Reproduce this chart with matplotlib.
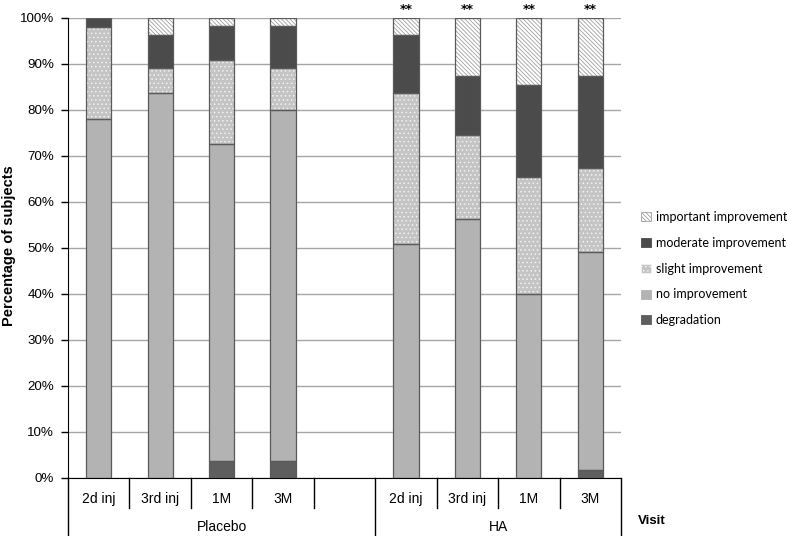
import matplotlib
matplotlib.use("Agg")
import matplotlib.pyplot as plt
import matplotlib.patches as patches
import numpy as np

# visits per treatment group
groups = ["Placebo", "HA"]
visits = ["2d inj", "3rd inj", "1M", "3M"]

# percentage of subjects, Placebo visits then HA visits
degradation = [0.0, 0.0, 3.6, 3.6, 0.0, 0.0, 0.0, 1.8]
no_improvement = [78.0, 83.6, 69.1, 76.4, 50.9, 56.4, 40.0, 47.3]
slight_improvement = [20.0, 5.5, 18.2, 9.1, 32.7, 18.2, 25.5, 18.2]
moderate_improvement = [2.0, 7.3, 7.3, 9.1, 12.7, 12.7, 20.0, 20.0]
important_improvement = [0.0, 3.6, 1.8, 1.8, 3.6, 12.7, 14.5, 12.7]
significance = ["", "", "", "", "**", "**", "**", "**"]

series_names = ["degradation", "no improvement", "slight improvement",
                "moderate improvement", "important improvement"]
series_values = [degradation, no_improvement, slight_improvement,
                 moderate_improvement, important_improvement]
# face, hatch, hatch colour
styles = [("#5e5e5e", None, "#5e5e5e"),
          ("#b3b3b3", None, "#b3b3b3"),
          ("#c4c4c4", "....", "#f2f2f2"),
          ("#4b4b4b", None, "#4b4b4b"),
          ("#ffffff", "\\\\\\\\\\\\\\\\", "#a0a0a0")]

plt.rcParams["hatch.linewidth"] = 0.6
tick_font = ["Liberation Sans Narrow", "Liberation Sans", "DejaVu Sans"]

fig = plt.figure(figsize=(7.87, 5.36), dpi=100)
ax = fig.add_axes([68 / 787, 58 / 536, 553 / 787, 460 / 536])

# slot positions: 5 slots for placebo (last empty), 4 for HA
xpos = np.array([0.5, 1.5, 2.5, 3.5, 5.5, 6.5, 7.5, 8.5])
width = 0.41

bottom = np.zeros(len(xpos))
for vals, (face, hatch, hcol) in zip(series_values, styles):
    vals = np.array(vals)
    ax.bar(xpos, vals, width, bottom=bottom, color=face, hatch=hatch,
           edgecolor=hcol, linewidth=0, zorder=3)
    ax.bar(xpos, vals, width, bottom=bottom, fill=False,
           edgecolor="#5a5a5a", linewidth=0.9, zorder=4)
    bottom += vals

for x, s in zip(xpos, significance):
    if s:
        ax.text(x, 101.0, s, ha="center", va="baseline", fontsize=9,
                fontweight="bold", family="DejaVu Sans", clip_on=False)

ax.set_xlim(0, 9)
ax.set_ylim(0, 100)
ax.set_yticks(np.arange(0, 101, 10))
ax.set_yticklabels([f"{v}%" for v in range(0, 101, 10)], family=tick_font[1:],
                   fontsize=9.6)
ax.yaxis.grid(True, color="#a6a6a6", linewidth=1, zorder=0)
ax.set_xticks([])
for side in ["top", "right"]:
    ax.spines[side].set_visible(False)
ax.spines["left"].set_color("black")
ax.spines["bottom"].set_color("black")
ax.tick_params(axis="y", length=5, width=1, direction="out", pad=5)

fig.text(9 / 787, 1 - 246 / 536, "Percentage of subjects", rotation=90,
         ha="center", va="center", fontsize=10.5, fontweight="bold",
         family=tick_font[1:])

# two-level category axis
trans = ax.get_xaxis_transform()
for xs in [1, 2, 3, 4, 6, 7, 8]:
    ax.plot([xs, xs], [0, -0.066], color="black", lw=1, transform=trans,
            clip_on=False)
for xs in [0, 5, 9]:
    ax.plot([xs, xs], [0, -0.13], color="black", lw=1, transform=trans,
            clip_on=False)
for x, i in zip(xpos, range(len(xpos))):
    ax.text(x, -0.046, visits[i % 4], transform=trans, ha="center",
            va="center", fontsize=10, family=tick_font)
ax.text(2.5, -0.107, groups[0], transform=trans, ha="center", va="center",
        fontsize=10, family=tick_font)
ax.text(7.0, -0.107, groups[1], transform=trans, ha="center", va="center",
        fontsize=10, family=tick_font)
ax.text(9.27, -0.093, "Visit", transform=trans, ha="left", va="center",
        fontsize=9.5, fontweight="bold", family=tick_font)

handles = []
for (face, hatch, hcol) in styles:
    handles.append(patches.Patch(facecolor=face, hatch=hatch, edgecolor=hcol,
                                 linewidth=0.6))
leg = fig.legend(handles[::-1], series_names[::-1], loc="upper left",
                 bbox_to_anchor=(630 / 787, 1 - 200 / 536), frameon=False,
                 handlelength=0.75, handleheight=0.75, handletextpad=0.4,
                 labelspacing=1.1, prop={"family": ["Lato", "DejaVu Sans"],
                                         "size": 9})

fig.savefig("out.png", dpi=100)
